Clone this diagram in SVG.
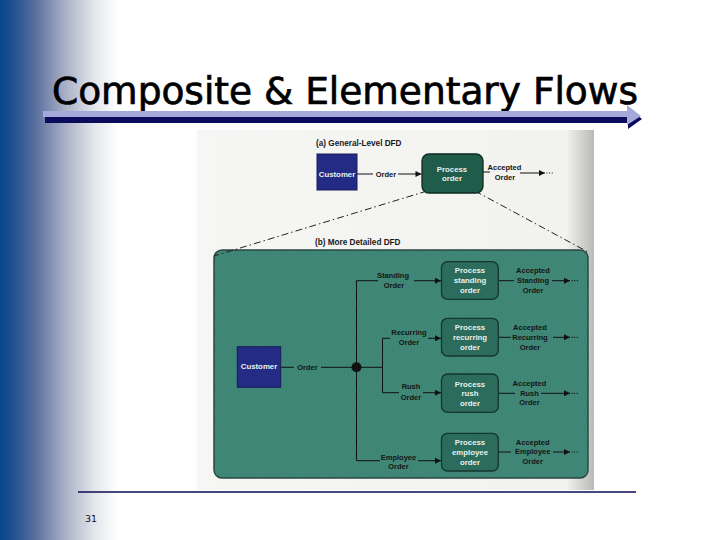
<svg xmlns="http://www.w3.org/2000/svg" width="720" height="540" viewBox="0 0 720 540">
<defs>
<linearGradient id="side" x1="0" y1="0" x2="1" y2="0">
<stop offset="0" stop-color="#08468e"/>
<stop offset="0.1" stop-color="#1e4f8f"/>
<stop offset="0.3" stop-color="#5a6f9e"/>
<stop offset="0.55" stop-color="#a8b0c6"/>
<stop offset="0.8" stop-color="#e4e6ec"/>
<stop offset="1" stop-color="#ffffff"/>
</linearGradient>
<linearGradient id="photo" x1="0" y1="0" x2="1" y2="0">
<stop offset="0" stop-color="#f6f6f4"/>
<stop offset="0.93" stop-color="#f2f2ef"/>
<stop offset="1" stop-color="#b9b9b6"/>
</linearGradient>
<pattern id="stripes" width="3" height="12" patternUnits="userSpaceOnUse" patternTransform="rotate(12)">
<rect width="1.2" height="12" fill="#000" fill-opacity="0.07"/>
</pattern>
<marker id="ah" viewBox="0 0 10 10" refX="10" refY="5" markerWidth="7" markerHeight="6" markerUnits="userSpaceOnUse" orient="auto">
<path d="M0,0 L10,5 L0,10 z" fill="#111"/>
</marker>
<style>
.lbl{font-family:"Liberation Sans",Arial,sans-serif;font-size:7.5px;font-weight:bold;fill:#151515;text-anchor:middle}
.wt{font-family:"Liberation Sans",Arial,sans-serif;font-size:7.8px;font-weight:bold;fill:#e8f1ec;text-anchor:middle}
.cust{fill:#242b84;stroke:#161c5c;stroke-width:1}
.proc{fill:#2b6c5d;stroke:#14362e;stroke-width:1.3}
.ln{fill:none;stroke:#111;stroke-width:1}
.dots{fill:none;stroke:#111;stroke-width:1.2;stroke-dasharray:1 1.6}
.dd{fill:none;stroke:#222;stroke-width:1;stroke-dasharray:7 3 1.5 3}
.hd{font-family:"Liberation Sans",Arial,sans-serif;font-size:8.2px;font-weight:bold;fill:#1a1a1a}
</style>
</defs>
<rect width="720" height="540" fill="#ffffff"/>
<rect x="0" y="0" width="118" height="540" fill="url(#side)"/>
<g id="title">
<text x="52" y="104" font-family="DejaVu Sans, sans-serif" font-size="37" fill="#000" stroke="#000" stroke-width="0.7" textLength="586" lengthAdjust="spacingAndGlyphs">Composite &amp; Elementary Flows</text>
<rect x="43" y="111" width="590" height="6" fill="#a3aad9"/>
<rect x="45" y="117" width="590" height="6" fill="#0b0b5c"/>
<polygon points="628,108 642,119 628,129" fill="#0b0b5c"/>
<polygon points="627,105 641,116 627,125" fill="#a3aad9"/>
</g>
<rect x="197" y="130" width="397" height="360" fill="url(#photo)"/>
<text class="hd" x="316" y="146">(a) General-Level DFD</text>
<text class="hd" x="315" y="245">(b) More Detailed DFD</text>
<g id="panel">
<rect x="214" y="250" width="374" height="228" rx="8" fill="#418a79" stroke="#2a4843" stroke-width="1.5"/>
<rect x="214" y="250" width="374" height="228" rx="8" fill="url(#stripes)"/>
</g>
<g id="connectors">
<path class="dd" d="M427,191 L214,256"/>
<path class="dd" d="M475,191 L588,252"/>
<path class="ln" d="M357,174 H373"/>
<path class="ln" d="M398,174 H421.5" marker-end="url(#ah)"/>
<path class="ln" d="M483,172 H490"/>
<path class="ln" d="M520,173 H545" marker-end="url(#ah)"/>
<path class="dots" d="M546.5,173 H554"/>
<path class="ln" d="M281,367.3 H294"/>
<path class="ln" d="M321,367.3 H382.5"/>
<circle cx="356.5" cy="367.3" r="5" fill="#111"/>
<path class="ln" d="M356.5,280.7 V460.7"/>
<path class="ln" d="M382.5,338.3 V392.7"/>
<path class="ln" d="M356.5,280.7 H378"/>
<path class="ln" d="M414,280.7 H441" marker-end="url(#ah)"/>
<path class="ln" d="M382.5,338.3 H390"/>
<path class="ln" d="M428,338.3 H441" marker-end="url(#ah)"/>
<path class="ln" d="M382.5,392.7 H399"/>
<path class="ln" d="M423,392.7 H441" marker-end="url(#ah)"/>
<path class="ln" d="M356.5,460.7 H380"/>
<path class="ln" d="M418,460.7 H441" marker-end="url(#ah)"/>
<path class="ln" d="M498.3,280.7 H514"/>
<path class="ln" d="M552,280.7 H570" marker-end="url(#ah)"/>
<path class="dots" d="M571.5,280.7 H578"/>
<path class="ln" d="M498.3,337.3 H511"/>
<path class="ln" d="M553,337.3 H570" marker-end="url(#ah)"/>
<path class="dots" d="M571.5,337.3 H578"/>
<path class="ln" d="M498.3,393.3 H515"/>
<path class="ln" d="M541,393.3 H570" marker-end="url(#ah)"/>
<path class="dots" d="M571.5,393.3 H578"/>
<path class="ln" d="M498.3,452 H511"/>
<path class="ln" d="M553,452 H570" marker-end="url(#ah)"/>
<path class="dots" d="M571.5,452 H578"/>
</g>
<g id="labels">
<text class="lbl" x="386" y="177">Order</text>
<text class="lbl" x="504.5" y="170">Accepted</text>
<text class="lbl" x="505" y="180">Order</text>
<text class="lbl" x="307.5" y="370">Order</text>
<text class="lbl" x="393" y="278">Standing</text>
<text class="lbl" x="394" y="288">Order</text>
<text class="lbl" x="533" y="273.4">Accepted</text>
<text class="lbl" x="533" y="283.4">Standing</text>
<text class="lbl" x="533" y="293.4">Order</text>
<text class="lbl" x="409" y="335">Recurring</text>
<text class="lbl" x="409" y="345.4">Order</text>
<text class="lbl" x="530" y="330">Accepted</text>
<text class="lbl" x="530" y="340">Recurring</text>
<text class="lbl" x="530" y="350">Order</text>
<text class="lbl" x="411" y="389.4">Rush</text>
<text class="lbl" x="411" y="400">Order</text>
<text class="lbl" x="529.5" y="386">Accepted</text>
<text class="lbl" x="529.5" y="396">Rush</text>
<text class="lbl" x="529.5" y="405.4">Order</text>
<text class="lbl" x="398.5" y="459.5">Employee</text>
<text class="lbl" x="398.5" y="469.4">Order</text>
<text class="lbl" x="532.7" y="445.4">Accepted</text>
<text class="lbl" x="532.7" y="454.4">Employee</text>
<text class="lbl" x="532.7" y="464.4">Order</text>
</g>
<g id="customer-a">
<rect class="cust" x="317" y="154" width="40" height="36"/>
<text class="wt" x="337" y="177" fill="#dfe4f5">Customer</text>
</g>
<g id="process-order">
<rect x="422" y="154" width="61" height="39" rx="7" fill="#1f5c4a" stroke="#0e2a22" stroke-width="1.3"/>
<text class="wt" x="452" y="172">Process</text>
<text class="wt" x="452" y="181">order</text>
</g>
<g id="customer-b">
<rect class="cust" x="237.3" y="346.7" width="43.4" height="40.6"/>
<text class="wt" x="259" y="369.4">Customer</text>
</g>
<g id="process-standing">
<rect class="proc" x="441.5" y="261.7" width="56.8" height="37.6" rx="6"/>
<text class="wt" x="470" y="273.4">Process</text>
<text class="wt" x="470" y="283.4">standing</text>
<text class="wt" x="470" y="293.4">order</text>
</g>
<g id="process-recurring">
<rect class="proc" x="441.5" y="318.3" width="56.8" height="37.7" rx="6"/>
<text class="wt" x="470" y="330">Process</text>
<text class="wt" x="470" y="340">recurring</text>
<text class="wt" x="470" y="350">order</text>
</g>
<g id="process-rush">
<rect class="proc" x="441.5" y="374" width="56.8" height="38.3" rx="6"/>
<text class="wt" x="470" y="386.7">Process</text>
<text class="wt" x="470" y="396">rush</text>
<text class="wt" x="470" y="406">order</text>
</g>
<g id="process-employee">
<rect class="proc" x="441.5" y="433.3" width="56.8" height="37.7" rx="6"/>
<text class="wt" x="470" y="445.4">Process</text>
<text class="wt" x="470" y="455.4">employee</text>
<text class="wt" x="470" y="465.4">order</text>
</g>
<line x1="78" y1="492" x2="636" y2="492" stroke="#0a0a50" stroke-width="1.5"/>
<text x="85" y="522" font-family="DejaVu Sans, sans-serif" font-size="9.5" fill="#111">31</text>
</svg>
